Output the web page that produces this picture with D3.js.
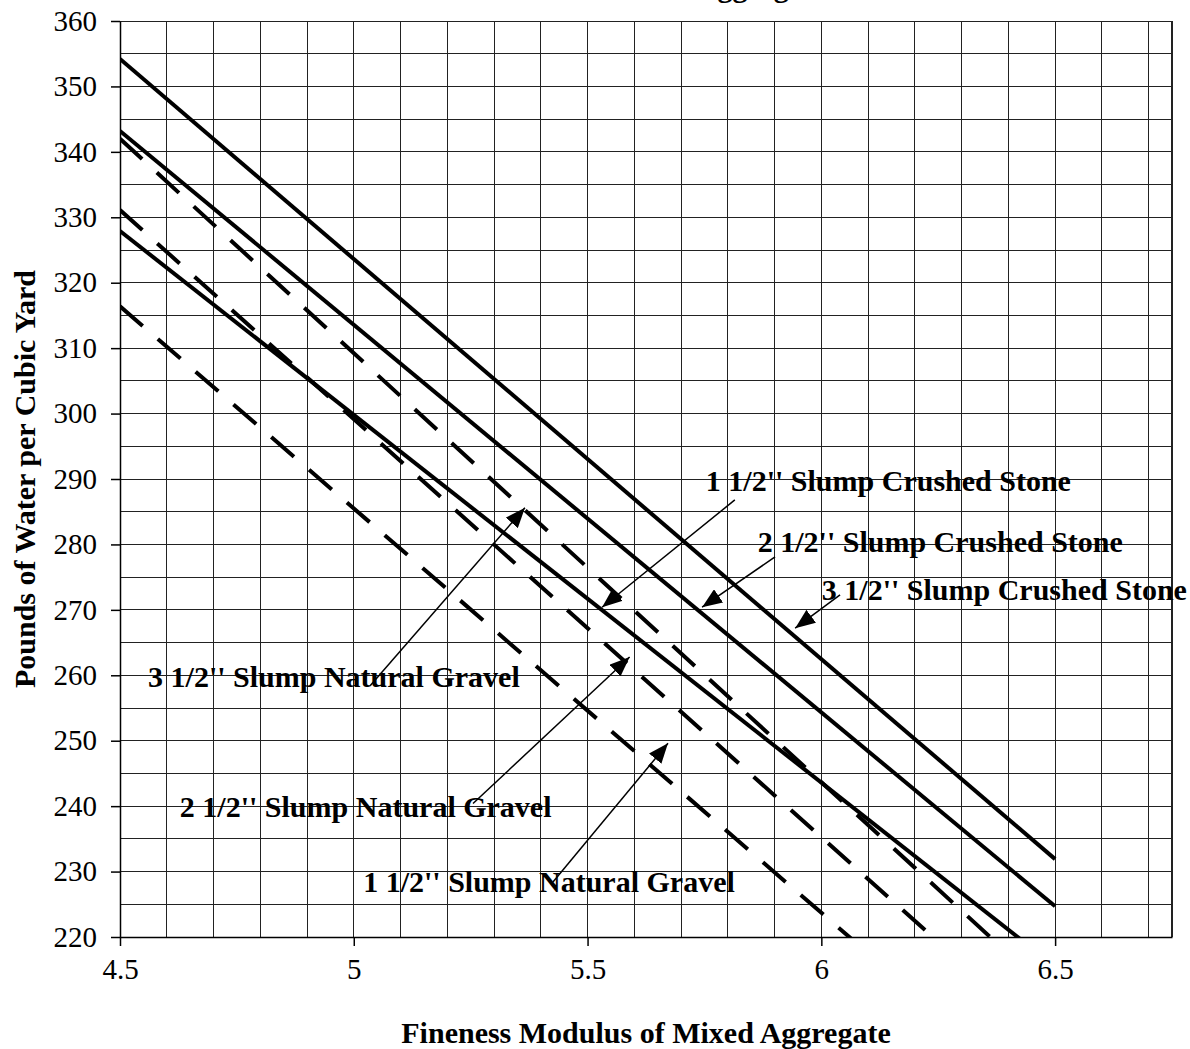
<!DOCTYPE html>
<html>
<head>
<meta charset="utf-8">
<script src="https://cdn.jsdelivr.net/npm/d3@7"></script>
<style>
  body { margin: 0; background: #fff; }
  svg { display: block; font-family: "Liberation Serif", "Times New Roman", serif; }
</style>
</head>
<body>
<svg id="chart" width="1190" height="1049"></svg>
<script>
// x values shared by every series (fineness modulus)
const fineness = [4.5, 6.5];

// pounds of water per cubic yard
const crushed35 = [354.2, 231.9];
const crushed25 = [343.2, 224.7];
const crushed15 = [327.9, 215.5];
const gravel35 = [342.0, 210.9];
const gravel25 = [331.1, 203.3];
const gravel15 = [316.4, 192.8];

const xTicks = [4.5, 5, 5.5, 6, 6.5];
const yTicks = [220, 230, 240, 250, 260, 270, 280, 290, 300, 310, 320, 330, 340, 350, 360];

// annotation labels and their arrows (data units)
const noteText = [
  "1 1/2'' Slump Crushed Stone",
  "2 1/2'' Slump Crushed Stone",
  "3 1/2'' Slump Crushed Stone",
  "3 1/2'' Slump Natural Gravel",
  "2 1/2'' Slump Natural Gravel",
  "1 1/2'' Slump Natural Gravel"
];
const noteX = [5.753, 5.864, 6.001, 4.560, 4.628, 5.020];
const noteY = [288.2, 278.8, 271.5, 258.2, 238.3, 226.9];
const arrowFrom = [[5.815, 286.8], [5.901, 278.1], [6.040, 272.3], [5.035, 258.4], [5.255, 240.4], [5.426, 228.4]];
const arrowTo = [[5.531, 270.4], [5.745, 270.4], [5.944, 267.2], [5.366, 285.6], [5.590, 262.8], [5.672, 249.6]];

const series = [
  { values: crushed35, dashed: false },
  { values: crushed25, dashed: false },
  { values: crushed15, dashed: false },
  { values: gravel35, dashed: true },
  { values: gravel25, dashed: true },
  { values: gravel15, dashed: true }
];

const svg = d3.select("#chart");
const x = d3.scaleLinear().domain([4.5, 6.75]).range([120, 1172]);
const y = d3.scaleLinear().domain([220, 360]).range([937, 21]);

// grid
const grid = svg.append("g").attr("shape-rendering", "crispEdges");
grid.selectAll("line.v")
  .data(d3.range(46, 68).map((d) => d / 10))
  .join("line")
  .attr("x1", (d) => x(d)).attr("x2", (d) => x(d))
  .attr("y1", y(220)).attr("y2", y(360))
  .attr("stroke", "#222").attr("stroke-width", 1);
grid.selectAll("line.h")
  .data(d3.range(225, 361, 5))
  .join("line")
  .attr("x1", x(4.5)).attr("x2", x(6.75))
  .attr("y1", (d) => y(d)).attr("y2", (d) => y(d))
  .attr("stroke", "#222").attr("stroke-width", 1);
grid.append("line")
  .attr("x1", x(6.75)).attr("x2", x(6.75))
  .attr("y1", y(220)).attr("y2", y(360))
  .attr("stroke", "#222").attr("stroke-width", 1.5);

// axes
const xAxis = svg.append("g")
  .attr("transform", `translate(0,${y(220)})`)
  .call(d3.axisBottom(x).tickValues(xTicks).tickSize(9).tickSizeOuter(0).tickPadding(12).tickFormat((d) => d));
const yAxis = svg.append("g")
  .attr("transform", `translate(${x(4.5)},0)`)
  .call(d3.axisLeft(y).tickValues(yTicks).tickSize(9).tickSizeOuter(0).tickPadding(14));
[xAxis, yAxis].forEach((g) => {
  g.select(".domain").attr("stroke", "#000").attr("stroke-width", 1.5);
  g.selectAll(".tick line").attr("stroke", "#000").attr("stroke-width", 1.5);
  g.selectAll(".tick text")
    .attr("font-family", "Liberation Serif, Times New Roman, serif")
    .attr("font-size", 29)
    .attr("fill", "#000");
});

// clip for lines
svg.append("clipPath").attr("id", "plot")
  .append("rect")
  .attr("x", x(4.5)).attr("y", y(360))
  .attr("width", x(6.75) - x(4.5)).attr("height", y(220) - y(360));

const line = d3.line()
  .x((d, i) => x(fineness[i]))
  .y((d) => y(d));

svg.append("g").attr("clip-path", "url(#plot)")
  .selectAll("path")
  .data(series)
  .join("path")
  .attr("d", (d) => line(d.values))
  .attr("fill", "none")
  .attr("stroke", "#000")
  .attr("stroke-width", 4)
  .attr("stroke-dasharray", (d) => (d.dashed ? "30,20" : null));

// arrows
svg.append("defs").append("marker")
  .attr("id", "head")
  .attr("markerUnits", "userSpaceOnUse")
  .attr("markerWidth", 22).attr("markerHeight", 16)
  .attr("refX", 20).attr("refY", 8)
  .attr("orient", "auto")
  .append("path")
  .attr("d", "M0,0 L20,8 L0,16 Z")
  .attr("fill", "#000");

svg.append("g")
  .selectAll("line")
  .data(noteText)
  .join("line")
  .attr("x1", (d, i) => x(arrowFrom[i][0]))
  .attr("y1", (d, i) => y(arrowFrom[i][1]))
  .attr("x2", (d, i) => x(arrowTo[i][0]))
  .attr("y2", (d, i) => y(arrowTo[i][1]))
  .attr("stroke", "#000")
  .attr("stroke-width", 1.5)
  .attr("marker-end", "url(#head)");

svg.append("g")
  .selectAll("text")
  .data(noteText)
  .join("text")
  .attr("x", (d, i) => x(noteX[i]))
  .attr("y", (d, i) => y(noteY[i]))
  .attr("font-size", 30)
  .attr("font-weight", "bold")
  .text((d) => d);

// titles (chart title is cut off at the top edge in the original)
svg.append("text")
  .attr("x", 827).attr("y", -3)
  .attr("text-anchor", "end")
  .attr("font-size", 30).attr("font-weight", "bold")
  .text("Aggregate");

svg.append("text")
  .attr("x", (x(4.5) + x(6.75)) / 2).attr("y", 1043)
  .attr("text-anchor", "middle")
  .attr("font-size", 30).attr("font-weight", "bold")
  .text("Fineness Modulus of Mixed Aggregate");

svg.append("text")
  .attr("transform", `translate(35,${(y(220) + y(360)) / 2}) rotate(-90)`)
  .attr("text-anchor", "middle")
  .attr("font-size", 30).attr("font-weight", "bold")
  .text("Pounds of Water per Cubic Yard");
</script>
</body>
</html>
